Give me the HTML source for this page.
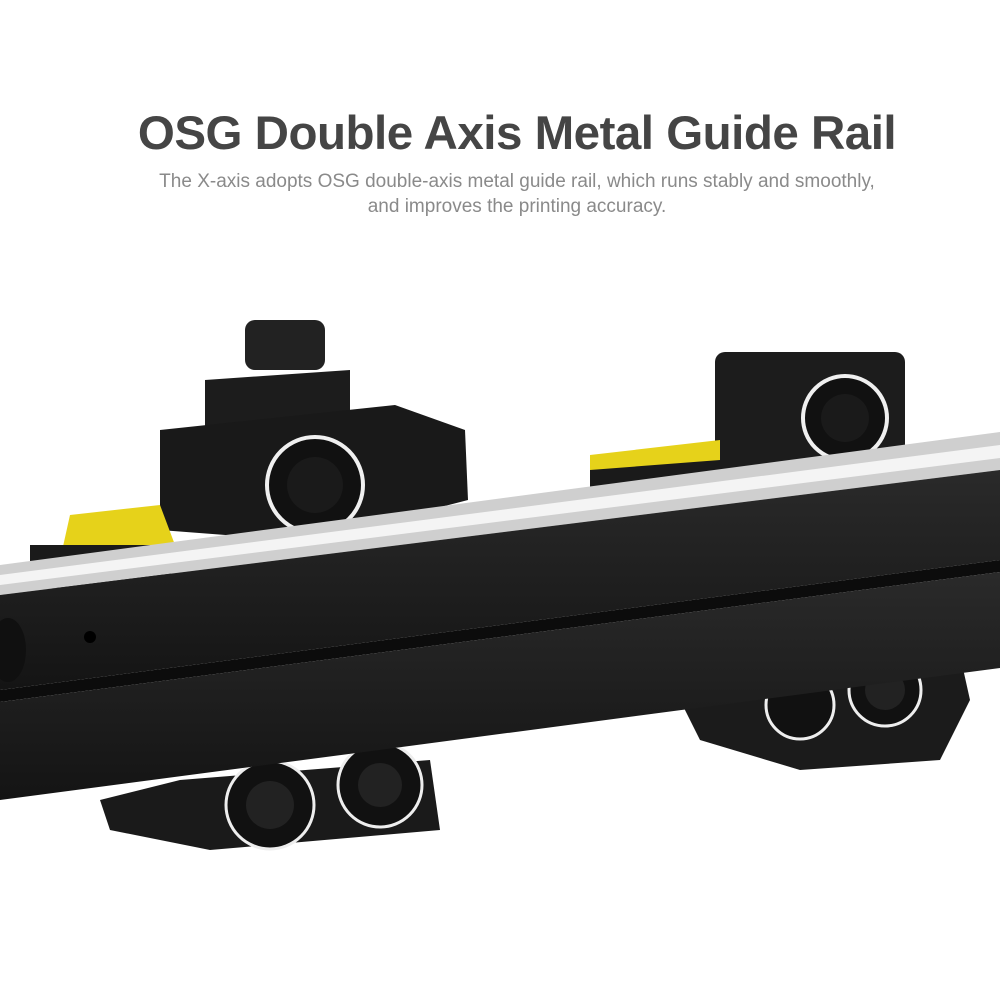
<!DOCTYPE html>
<html><head><meta charset="utf-8"><style>
html,body{margin:0;padding:0;background:#fff;width:1000px;height:1000px;overflow:hidden}
h1{position:absolute;top:106px;left:0;width:1034px;text-align:center;margin:0;font:bold 47.5px "Liberation Sans",sans-serif;color:#454545;letter-spacing:-0.5px}
p{position:absolute;top:169px;left:0;width:1034px;text-align:center;margin:0;font:19px/25px "Liberation Sans",sans-serif;color:#8a8a8a}
svg{position:absolute;left:0;top:0}
</style></head><body>
<svg width="1000" height="1000" viewBox="0 0 1000 1000">
<defs>
<linearGradient id="face" x1="0" y1="0" x2="0" y2="1"><stop offset="0" stop-color="#2a2a2a"/><stop offset="1" stop-color="#141414"/></linearGradient>
</defs>
<polygon points="100,800 180,780 430,760 440,830 210,850 110,830" fill="#1a1a1a"/>
<polygon points="680,700 960,655 970,700 940,760 800,770 700,740" fill="#1b1b1b"/>
<g fill="#111" stroke="#eee" stroke-width="3">
<circle cx="270" cy="805" r="44"/><circle cx="380" cy="785" r="42"/>
<circle cx="800" cy="705" r="34"/><circle cx="885" cy="690" r="36"/>
</g>
<g fill="#222"><circle cx="270" cy="805" r="24"/><circle cx="380" cy="785" r="22"/><circle cx="885" cy="690" r="20"/></g>
<rect x="245" y="320" width="80" height="50" rx="10" fill="#222"/>
<polygon points="205,380 350,370 350,420 205,430" fill="#1c1c1c"/>
<polygon points="160,430 395,405 465,430 468,500 410,515 290,540 160,530" fill="#191919"/>
<polygon points="70,515 160,505 175,545 60,560" fill="#e6d21a"/>
<polygon points="30,545 175,545 170,580 30,590" fill="#1a1a1a"/>
<rect x="715" y="352" width="190" height="120" rx="10" fill="#1c1c1c"/>
<polygon points="590,455 720,440 720,480 590,495" fill="#e6d21a"/>
<polygon points="590,470 720,460 720,500 590,510" fill="#1a1a1a"/>
<g fill="#111" stroke="#f0f0f0" stroke-width="4">
<circle cx="315" cy="485" r="48"/><circle cx="845" cy="418" r="42"/>
</g>
<g fill="#1a1a1a"><circle cx="315" cy="485" r="28"/><circle cx="845" cy="418" r="24"/></g>
<polygon points="0,565 1000,432 1000,470 0,595" fill="#cfcfcf"/>
<polygon points="0,575 1000,445 1000,458 0,585" fill="#f4f4f4"/>
<polygon points="0,595 1000,470 1000,560 0,690" fill="url(#face)"/>
<polygon points="0,690 1000,560 1000,572 0,702" fill="#0c0c0c"/>
<polygon points="0,702 1000,572 1000,668 0,800" fill="url(#face)"/>
<circle cx="90" cy="637" r="6" fill="#000"/>
<ellipse cx="8" cy="650" rx="18" ry="32" fill="#101010"/>
</svg>
<h1>OSG Double Axis Metal Guide Rail</h1>
<p>The X-axis adopts OSG double-axis metal guide rail, which runs stably and smoothly,<br>and improves the printing accuracy.</p>
</body></html>
